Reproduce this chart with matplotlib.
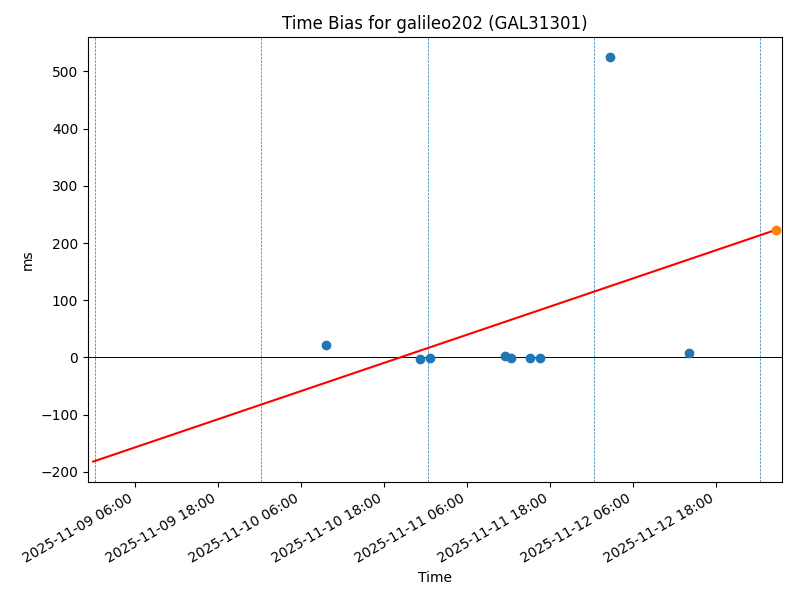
import pandas as pd
import matplotlib
matplotlib.use("Agg")
import matplotlib.pyplot as plt
import matplotlib.dates as mdates

# Measured time bias points
times = pd.to_datetime([
    "2025-11-10 09:42", "2025-11-10 23:13", "2025-11-11 00:36",
    "2025-11-11 11:34", "2025-11-11 12:23", "2025-11-11 15:04",
    "2025-11-11 16:31", "2025-11-12 02:39", "2025-11-12 14:06",
])
bias_ms = [21, -2.4, -0.7, 2.8, -0.7, -0.7, -0.7, 524.6, 7]

# Fit line and predicted point
fit_times = pd.to_datetime(["2025-11-09 00:00", "2025-11-13 02:38"])
fit_ms = [-182, 223]
pred_time = pd.to_datetime(["2025-11-13 02:38"])
pred_ms = [223]

# Day boundaries
day_lines = pd.to_datetime([
    "2025-11-09 00:19", "2025-11-10 00:19", "2025-11-11 00:19",
    "2025-11-12 00:19", "2025-11-13 00:19",
])

fig, ax = plt.subplots(figsize=(8, 6), dpi=100)

for d in day_lines:
    ax.axvline(d, color="C0", linestyle="--", linewidth=0.5)
ax.axhline(0, color="black", linewidth=0.7)

ax.plot(times, bias_ms, "o", color="C0")
ax.plot(fit_times, fit_ms, color="red")
ax.plot(pred_time, pred_ms, "o", color="C1")

ax.set_xlim(pd.Timestamp("2025-11-08 23:15"), pd.Timestamp("2025-11-13 03:35"))
ax.xaxis.set_major_locator(mdates.HourLocator(byhour=[6, 18]))
ax.xaxis.set_major_formatter(mdates.DateFormatter("%Y-%m-%d %H:%M"))

ax.set_title("Time Bias for galileo202 (GAL31301)")
ax.set_xlabel("Time")
ax.set_ylabel("ms")

fig.autofmt_xdate()
fig.subplots_adjust(left=0.110, right=0.978, top=0.938, bottom=0.197)

plt.savefig("out.png")
